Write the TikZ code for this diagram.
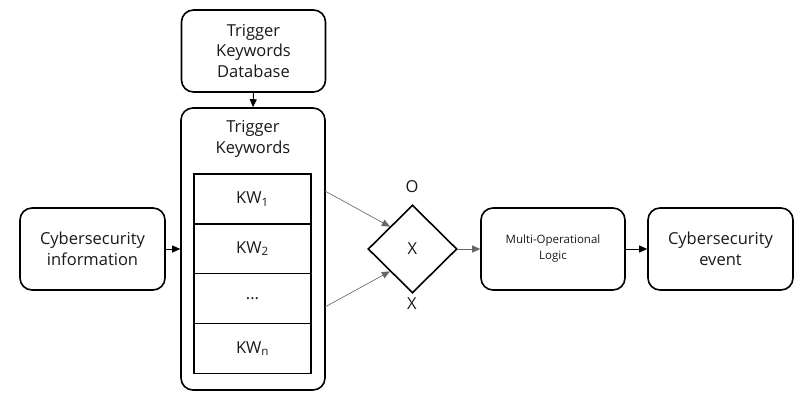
\documentclass[tikz,border=0pt]{standalone}
\usepackage{fontspec}
\setmainfont{Open Sans}
\usetikzlibrary{shapes.geometric,arrows.meta}
\begin{document}
\begin{tikzpicture}[x=1pt,y=-1pt,
  txt/.style={font=\fontsize{16.5}{20.5}\selectfont,text=black!90,align=center},
  box/.style={txt,draw,line width=1.6pt,rounded corners=12pt,inner sep=0pt,minimum width=144pt,minimum height=82pt},
  kwbox/.style={txt,draw,line width=1.2pt,minimum width=117pt,minimum height=50pt,inner sep=0pt},
  arr/.style={-{Triangle[length=8pt,width=7pt]},line width=0.9pt},
  thinarr/.style={-{Triangle[length=8pt,width=7pt]},line width=0.5pt,draw=black!60,fill=black}
]
\useasboundingbox (0,0) rectangle (803,402);
\fill[white] (0,0) rectangle (803,402);

\node[box] (db) at (253.5,51) {Trigger\\Keywords\\Database};
\node[box,minimum height=282pt] (tk) at (253,249) {};
\node[txt] (tklabel) at (253,139) {Trigger\\Keywords};
\node[kwbox] (kw1) at (252.5,199) {KW\textsubscript{1}};
\node[kwbox] (kw2) at (252.5,248.5) {KW\textsubscript{2}};
\node[kwbox] (kw3) at (252.5,298.5) {...};
\node[kwbox] (kwn) at (252.5,348.5) {KW\textsubscript{n}};

\node[box,minimum width=145pt] (info) at (92.5,249) {Cybersecurity\\information};
\node[txt,draw,line width=1.6pt,diamond,minimum width=89pt,minimum height=88pt,inner sep=0pt] (gate) at (412.5,249) {X};
\node[txt] (o) at (412,187) {O};
\node[txt] (x) at (412,304) {X};
\node[box,font=\fontsize{11.5}{16}\selectfont] (mol) at (553,249) {Multi-Operational\\Logic};
\node[box,minimum width=145pt] (ev) at (720.5,249) {Cybersecurity\\event};

\coordinate (s1) at (325,191);
\coordinate (s2) at (325,307);

\draw[arr] (db.south) -- (tk.north);
\draw[arr] (info.east) -- (tk.west);
\draw[thinarr] (s1) -- (gate.north west);
\draw[thinarr] (s2) -- (gate.south west);
\draw[thinarr,line width=0.8pt] (gate.east) -- (mol.west);
\draw[arr] (mol.east) -- (ev.west);
\end{tikzpicture}
\end{document}
